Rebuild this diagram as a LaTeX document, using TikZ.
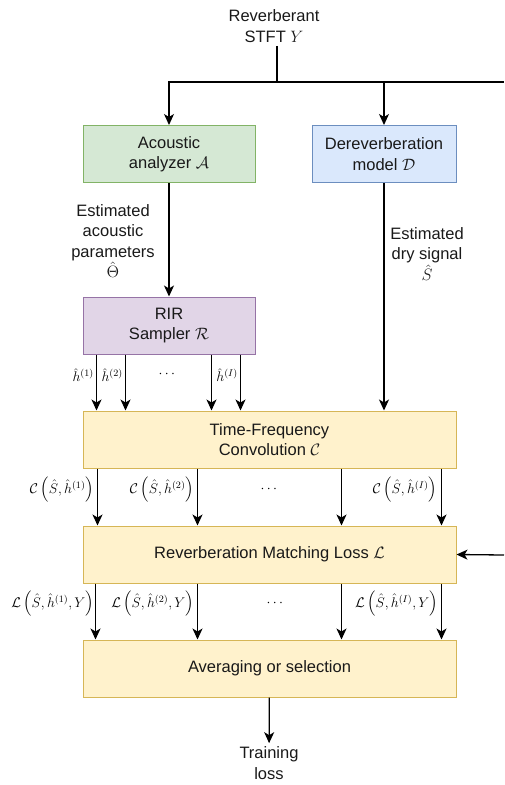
\documentclass[tikz,border=0pt]{standalone}
\usepackage{fix-cm}
\usepackage{amsmath,amssymb}
\usepackage{fontspec}
\setmainfont{Liberation Sans}
\usetikzlibrary{arrows.meta,calc}
\definecolor{analyzergreen}{HTML}{D5E8D4}
\definecolor{analyzerline}{HTML}{82B366}
\definecolor{modelblue}{HTML}{DAE8FC}
\definecolor{modelline}{HTML}{6C8EBF}
\definecolor{samplerviolet}{HTML}{E1D5E7}
\definecolor{samplerline}{HTML}{9673A6}
\definecolor{lossyellow}{HTML}{FFF2CC}
\definecolor{lossline}{HTML}{D6B656}
\newcommand{\boxfont}{\fontsize{16.5}{20.5}\selectfont}
\newcommand{\sigfont}{\fontsize{14}{16}\selectfont}
\tikzset{
  wire/.style={black,line width=1.3pt},
  flow/.style={wire,-{Stealth[length=11pt,width=10pt,inset=3pt]}},
  block/.style={line width=1pt,minimum height=57pt,inner sep=3pt,align=center,
                font=\boxfont,text=black!90},
  analyzer/.style={block,fill=analyzergreen,draw=analyzerline,minimum width=172pt},
  model/.style={block,fill=modelblue,draw=modelline,minimum width=144pt},
  sampler/.style={block,fill=samplerviolet,draw=samplerline,minimum width=172pt},
  stage/.style={block,fill=lossyellow,draw=lossline,minimum width=373pt},
  lab/.style={align=center,font=\boxfont,text=black!90},
  sig/.style={font=\sigfont,inner sep=1pt},
}

\begin{document}
\begin{tikzpicture}[x=1pt,y=-1pt]
  \path[use as bounding box] (0,0) rectangle (504,785);

  \node[lab] (input) at (274,26) {Reverberant\\STFT $Y$};
  \coordinate (split) at (277,82);
  \coordinate (rightsplit) at (504,82);
  \coordinate (rightin) at (504,555);

  \node[analyzer] (acoustic) at (169,154) {Acoustic\\analyzer $\mathcal{A}$};
  \node[model] (dereverb) at (384,154) {Dereverberation\\model $\mathcal{D}$};
  \node[sampler] (sampler) at (169,325.5) {RIR\\Sampler $\mathcal{R}$};
  \node[stage] (tfconv) at (269.5,439.5) {Time-Frequency\\Convolution $\mathcal{C}$};
  \node[stage] (rml) at (269.5,554.5) {Reverberation Matching Loss $\mathcal{L}$};
  \node[stage] (avg) at (269.5,668.5) {Averaging or selection};
  \node[lab] (loss) at (269,763) {Training\\loss};

  \node[lab] (thetalab) at (113,241) {Estimated\\acoustic\\parameters\\$\hat{\Theta}$};
  \node[lab] (drylab) at (427,254) {Estimated\\dry signal\\$\hat{S}$};

  \draw[wire] (input.south -| split) -- (split) -- (rightsplit);
  \draw[flow] (split) -| (acoustic.north);
  \draw[flow] (split) -| (dereverb.north);
  \draw[flow] (acoustic) -- (sampler);
  \draw[flow] (dereverb) -- (dereverb |- tfconv.north);
  \draw[flow] (rightin) -- (rml.east);
  \draw[flow] (avg) -- (loss);

  \foreach \dx in {14,43,129,158}
    \draw[flow] ([xshift=\dx pt]sampler.south west) -- ([xshift=\dx pt]tfconv.north west);
  \foreach \dx in {15,115,259,359}
    \draw[flow] ([xshift=\dx pt]tfconv.south west) -- ([xshift=\dx pt]rml.north west);
  \foreach \dx in {13,115,259,359}
    \draw[flow] ([xshift=\dx pt]rml.south west) -- ([xshift=\dx pt]avg.north west);

  \node[sig,anchor=east] (h1) at (95,375) {$\hat{h}^{(1)}$};
  \node[sig,anchor=east] (h2) at (124,375) {$\hat{h}^{(2)}$};
  \node[sig] (hdots) at (168,374) {$\cdots$};
  \node[sig,anchor=east] (hI) at (239,375) {$\hat{h}^{(I)}$};

  \node[sig,anchor=east] (c1) at (95,490) {$\mathcal{C}\left(\hat{S},\hat{h}^{(1)}\right)$};
  \node[sig,anchor=east] (c2) at (195,490) {$\mathcal{C}\left(\hat{S},\hat{h}^{(2)}\right)$};
  \node[sig] (cdots) at (270,489) {$\cdots$};
  \node[sig,anchor=east] (cI) at (438,490) {$\mathcal{C}\left(\hat{S},\hat{h}^{(I)}\right)$};

  \node[sig,anchor=east] (l1) at (95,604) {$\mathcal{L}\left(\hat{S},\hat{h}^{(1)},Y\right)$};
  \node[sig,anchor=east] (l2) at (195,604) {$\mathcal{L}\left(\hat{S},\hat{h}^{(2)},Y\right)$};
  \node[sig] (ldots) at (276,603) {$\cdots$};
  \node[sig,anchor=east] (lI) at (439,604) {$\mathcal{L}\left(\hat{S},\hat{h}^{(I)},Y\right)$};
\end{tikzpicture}
\end{document}
